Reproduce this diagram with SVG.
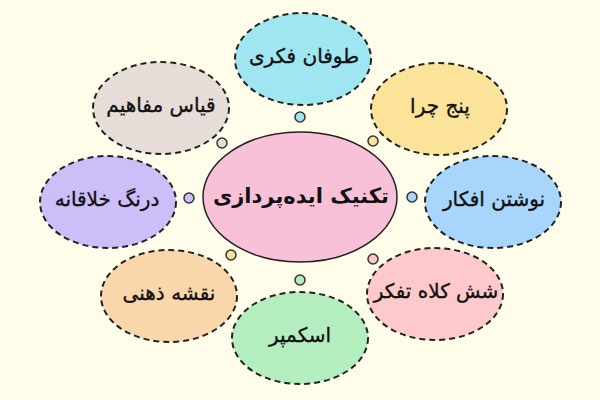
<svg xmlns="http://www.w3.org/2000/svg" width="600" height="400" viewBox="0 0 600 400">
<style>
.node{stroke:#222;stroke-width:2;stroke-dasharray:6 4}
.dot{stroke:#333;stroke-width:1.5}
.lbl{font-family:"DejaVu Sans",sans-serif;font-size:20px;fill:#111;stroke:#111;stroke-width:0.35;text-anchor:middle;dominant-baseline:central}
.main{font-family:"DejaVu Sans",sans-serif;font-size:21px;font-weight:bold;fill:#111;text-anchor:middle;dominant-baseline:central}
</style>
<rect width="600" height="400" fill="#fffdea"/>
<g id="connectors">
<circle class="dot" cx="300" cy="117" r="5" fill="#9fe6f0"/>
<circle class="dot" cx="373" cy="141" r="5" fill="#fbe49a"/>
<circle class="dot" cx="222" cy="143" r="5" fill="#e6dcd8"/>
<circle class="dot" cx="189" cy="198" r="5" fill="#cdbdf8"/>
<circle class="dot" cx="412" cy="197" r="5" fill="#a8d5fb"/>
<circle class="dot" cx="373" cy="259" r="5" fill="#f9c6ca"/>
<circle class="dot" cx="231" cy="255" r="5" fill="#f8e39a"/>
<circle class="dot" cx="300" cy="280" r="5" fill="#b4eebe"/>
</g>
<g id="center">
<ellipse cx="300" cy="197" rx="97" ry="65" fill="#f8c1d8" stroke="#222" stroke-width="1.5"/>
<text class="main" x="301" y="196">تکنیک ایده‌پردازی</text>
</g>
<g id="n-toofan">
<ellipse class="node" cx="303" cy="59" rx="68" ry="46" fill="#9fe6f0"/>
<text class="lbl" x="304" y="56">طوفان فکری</text>
</g>
<g id="n-panj">
<ellipse class="node" cx="439" cy="109" rx="68" ry="46" fill="#fbe49a"/>
<text class="lbl" x="440" y="106">پنج چرا</text>
</g>
<g id="n-ghias">
<ellipse class="node" cx="161" cy="108" rx="68" ry="46" fill="#e6dcd8"/>
<text class="lbl" x="161" y="105">قیاس مفاهیم</text>
</g>
<g id="n-derang">
<ellipse class="node" cx="108" cy="202" rx="68" ry="46" fill="#cdbdf8"/>
<text class="lbl" x="107" y="199">درنگ خلاقانه</text>
</g>
<g id="n-neveshtan">
<ellipse class="node" cx="493" cy="202" rx="68" ry="46" fill="#a8d5fb"/>
<text class="lbl" x="494" y="199">نوشتن افکار</text>
</g>
<g id="n-shesh">
<ellipse class="node" cx="435" cy="294" rx="68" ry="46" fill="#fdc9ca"/>
<text class="lbl" x="436" y="291">شش کلاه تفکر</text>
</g>
<g id="n-naghshe">
<ellipse class="node" cx="169" cy="296" rx="68" ry="46" fill="#fad6ab"/>
<text class="lbl" x="169" y="293">نقشه ذهنی</text>
</g>
<g id="n-scamper">
<ellipse class="node" cx="300" cy="338" rx="68" ry="46" fill="#b4eebe"/>
<text class="lbl" x="300" y="335">اسکمپر</text>
</g>
</svg>
